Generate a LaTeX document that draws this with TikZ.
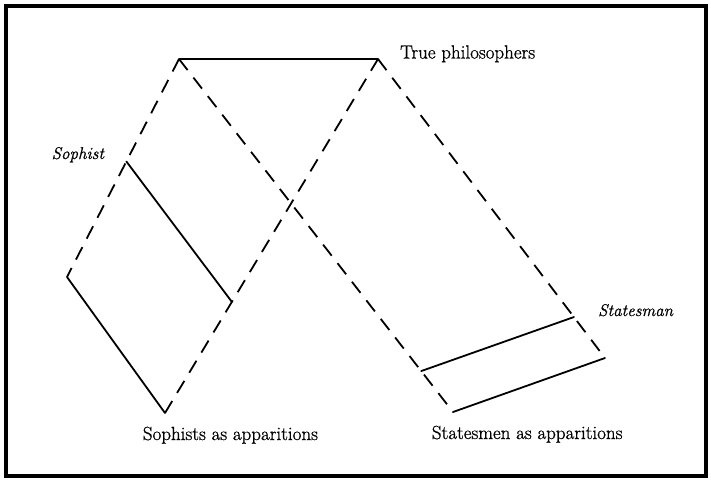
\documentclass[tikz,border=0pt]{standalone}
\usepackage{fontspec}
\newfontfamily\labfont{Latin Modern Roman}[FakeBold=0.9]
\usetikzlibrary{positioning, calc}
\tikzset{
  sol/.style ={line width=1.8pt, line cap=round},
  dsh/.style ={line width=1.8pt, dash pattern=on 14pt off 9.5pt},
  frm/.style ={line width=4pt},
  lab/.style ={inner sep=0pt, anchor=base west, font=\labfont\fontsize{19}{22}\selectfont},
  ilab/.style={inner sep=0pt, anchor=base west, font=\labfont\fontsize{17}{20}\selectfont\itshape},
}

\begin{document}
\begin{tikzpicture}[x=1pt, y=-1pt]
  \useasboundingbox (0,0) rectangle (711,480);
  \draw[frm] (5.5,6) rectangle (705.5,475.5);
  % corners
  \coordinate (tl) at (179,59);
  \coordinate (tr) at (378,59);
  \coordinate (lft) at (67,277);
  \coordinate (bl) at (165,413);
  \coordinate (rgt) at (605,358);
  \coordinate (br) at (453,412);
  \coordinate (soph) at ($(tl)!.47!(lft)$);
  \coordinate (sophb) at ($(bl)!.314!(tr)$);
  \coordinate (stat) at ($(tr)!.863!(rgt)$);
  \coordinate (statl) at ($(tl)!.884!(br)$);
  % lines
  \draw[sol] (tl)--(tr);
  \draw[dsh] (tl)--(lft);
  \draw[dsh] (bl)--(tr);
  \draw[dsh] (tl)--(br);
  \draw[dsh] (tr)--(rgt);
  \draw[sol] (lft)--(bl);
  \draw[sol] (soph)--(sophb);
  \draw[sol] (statl)--(stat);
  \draw[sol] (rgt)--(br);
  % labels
  \node[lab] (tp) at (400,58.5) {True philosophers};
  \node[ilab] (sl) at (51.5,159) {Sophist};
  \node[ilab] (stl) at (598,316) {Statesman};
  \node[lab] (sa) at (142.7,440) {Sophists as apparitions};
  \node[lab] (sta) at (431.7,439) {Statesmen as apparitions};
\end{tikzpicture}
\end{document}
